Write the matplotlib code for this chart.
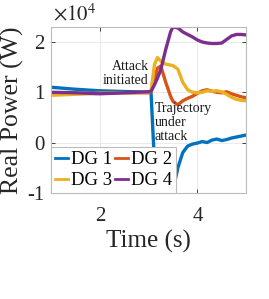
import matplotlib.pyplot as plt

plt.rcParams['font.family'] = ['Liberation Serif', 'DejaVu Serif']
plt.rcParams['mathtext.fontset'] = 'stix'
plt.rcParams['axes.unicode_minus'] = False

# time (s) and real power (W)
t = [1.0, 1.5, 2.0, 2.5, 3.0, 3.05, 3.12, 3.18, 3.25, 3.35, 3.45, 3.5, 3.6,
     3.7, 3.8, 3.9, 4.0, 4.1, 4.2, 4.3, 4.4, 4.5, 4.6, 4.7, 4.8, 4.9, 5.0]
dg1 = [11000, 10600, 10300, 10150, 10050, 9800, -4000, -11000, -12000, -12000, -11500, -9500, -5000,
       -2000, -700, -300, -100, 200, 0, 500, 700, 400, 600, 900, 1100, 1300, 1500]
dg2 = [9700, 9800, 9800, 9900, 9900, 10100, 12500, 14800, 15200, 12000, 9200, 8200, 7500,
       8300, 8800, 9200, 9800, 10300, 10500, 10200, 10000, 9900, 10100, 9700, 9400, 9100, 8900]
dg3 = [9400, 9600, 9800, 9900, 10000, 10300, 15500, 16900, 16200, 15600, 15400, 15300, 14600,
       12000, 10500, 10000, 9900, 10000, 10300, 10200, 10300, 10100, 9600, 9000, 8600, 8400, 8300]
dg4 = [10000, 9900, 9700, 9900, 10100, 10200, 11500, 12800, 14500, 18500, 22000, 23000, 22800,
       22000, 21500, 21000, 20400, 20000, 19800, 19700, 19700, 19800, 20500, 21200, 21500, 21500, 21400]

labels = ['DG 1', 'DG 2', 'DG 3', 'DG 4']
colors = ['#0072BD', '#D95319', '#EDB120', '#7E2F8E']
scale = 1e4

fig = plt.figure(figsize=(2.69, 2.99), dpi=100)
ax = fig.add_axes([0.19, 0.355, 0.725, 0.555])

lines = []
for y, lab, c in zip([dg1, dg2, dg3, dg4], labels, colors):
    ln, = ax.plot(t, [v / scale for v in y], color=c, lw=2.4, label=lab)
    lines.append(ln)

ax.set_xlim(1, 5)
ax.set_ylim(-1, 2.3)
ax.set_xticks([2, 4])
ax.set_yticks([-1, 0, 1, 2])
ax.set_yticklabels(['-1', '0', '1', '2'])

ax.text(0.01, 1.01, r'$\times10^4$', transform=ax.transAxes, fontsize=15,
        ha='left', va='bottom', color='#262626')

ax.grid(True, color='#e6e6e6', lw=0.6)
for s in ax.spines.values():
    s.set_color('#bbbbbb')
    s.set_linewidth(0.8)
ax.tick_params(labelsize=15, colors='#262626', length=3, width=0.6,
               direction='in', top=True, right=True, pad=5)
ax.tick_params(axis='x', pad=10)
for lbl in ax.get_xticklabels() + ax.get_yticklabels():
    lbl.set_color('#262626')

ax.set_xlabel('Time (s)', fontsize=18, color='#262626', labelpad=3)
ax.set_ylabel('Real Power (W)', fontsize=18.5, color='#262626', labelpad=2)

ax.text(3.0, 1.37, 'Attack\ninitiated', fontsize=10, ha='right', va='center',
        linespacing=1.1, color='#1a1a1a')
ax.text(3.12, 0.39, 'Trajectory\nunder\nattack', fontsize=10, ha='left', va='center',
        linespacing=1.1, color='#1a1a1a')

# row-wise order like the original legend: DG1 DG2 / DG3 DG4
order = [0, 2, 1, 3]
leg = ax.legend([lines[i] for i in order], [labels[i] for i in order],
                loc='lower left', ncol=2, fontsize=13.5, handlelength=0.7,
                handletextpad=0.15, columnspacing=0.15, borderpad=0.2,
                labelspacing=0.2, borderaxespad=0.0, fancybox=False,
                framealpha=1, edgecolor='#bbbbbb')
leg.get_frame().set_linewidth(0.8)
for h in leg.legend_handles:
    h.set_linewidth(2.0)

fig.savefig('out.png', dpi=100)
